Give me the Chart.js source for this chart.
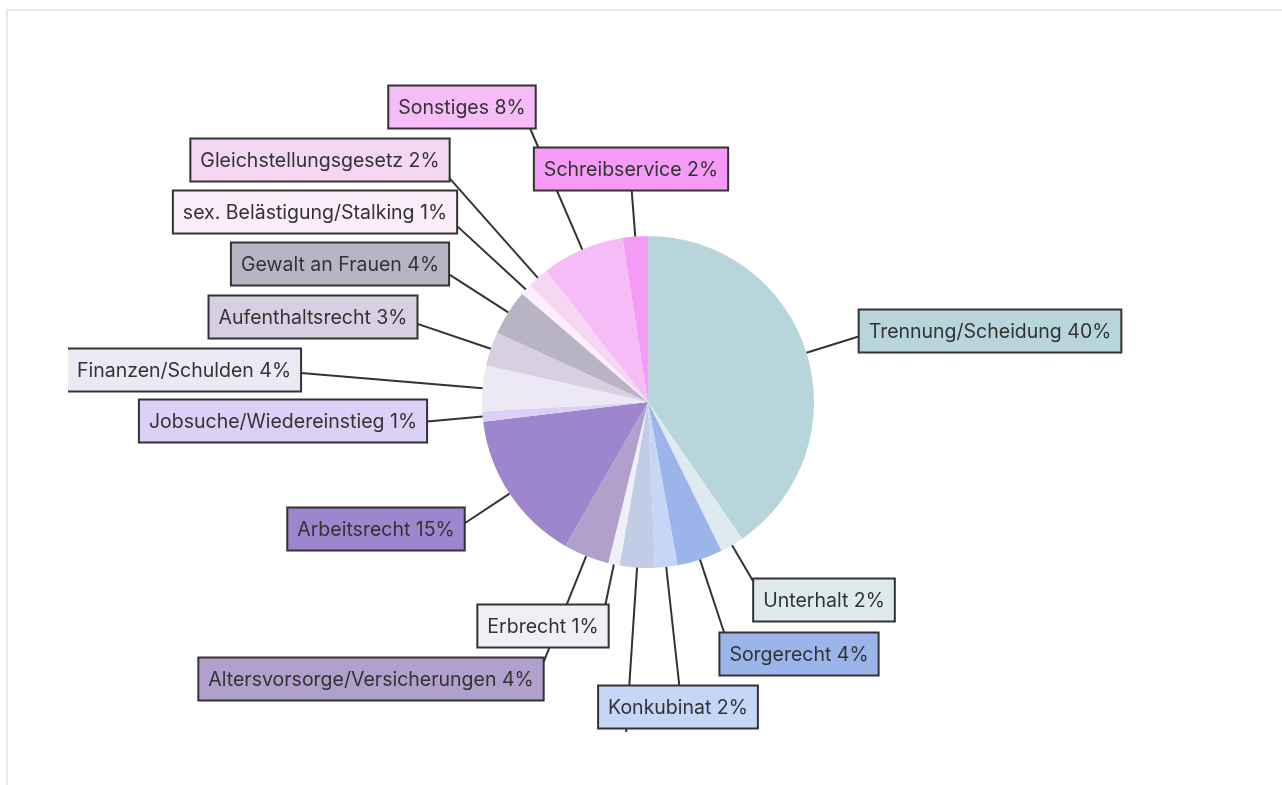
<!DOCTYPE html>
<html>
<head>
<meta charset="utf-8">
<script src="https://cdn.jsdelivr.net/npm/chart.js@4/dist/chart.umd.min.js"></script>
<style>
  html, body { margin: 0; padding: 0; background: #ffffff; overflow: hidden; }
  #frame { position: absolute; left: 6px; top: 9px; width: 1320px; height: 820px;
           border: 2px solid #e8e8e8; box-sizing: border-box; }
  #wrap { position: absolute; left: 68px; top: 72px; width: 1160px; height: 660px; }
</style>
</head>
<body>
<div id="frame"></div>
<div id="wrap"><canvas id="c" width="1160" height="660"></canvas></div>
<script>
// ---- data ----
const categories = [
  'Trennung/Scheidung', 'Unterhalt', 'Sorgerecht', 'Konkubinat', '',
  'Erbrecht', 'Altersvorsorge/Versicherungen', 'Arbeitsrecht',
  'Jobsuche/Wiedereinstieg', 'Finanzen/Schulden', 'Aufenthaltsrecht',
  'Gewalt an Frauen', 'sex. Belästigung/Stalking', 'Gleichstellungsgesetz',
  'Sonstiges', 'Schreibservice'
];
const values = [40.4, 2.3, 4.45, 2.2, 3.4, 1.1, 4.45, 14.8, 1.0, 4.45, 3.3, 4.45, 1.1, 2.1, 8.05, 2.45];
const colors = [
  '#b8d5dc', '#deeaee', '#9bb5ea', '#c6d6f7', '#c1cde6', '#eef0f6', '#b1a0cc', '#9e86cf',
  '#dcd0f6', '#ede9f4', '#d8d0e2', '#b8b4c3', '#fbeefa', '#f5d7f3', '#f6bcf7', '#f59bf6'
];
// label box centre offsets from the pie centre (layout only)
const labelOffsets = [
  [342, -71], [176, 198], [151, 252], [30, 305], [-24, 380],
  [-105, 224], [-277, 277], [-272, 127], [-365, 19], [-464, -32],
  [-335, -85], [-308, -138], [-333, -190], [-328, -242], [-186, -295], [-17, -233]
];

const total = values.reduce((a, b) => a + b, 0);

const boxLabels = {
  id: 'boxLabels',
  afterDatasetsDraw(chart) {
    const ctx = chart.ctx;
    const meta = chart.getDatasetMeta(0);
    ctx.save();
    ctx.font = '19.5px Inter, "Noto Sans", sans-serif';
    const padX = 10, h = 43;
    const boxes = meta.data.map((arc, i) => {
      const p = arc.getProps(['x', 'y', 'startAngle', 'endAngle', 'outerRadius'], true);
      const mid = (p.startAngle + p.endAngle) / 2;
      const dx = Math.cos(mid), dy = Math.sin(mid);
      const ex = p.x + dx * p.outerRadius, ey = p.y + dy * p.outerRadius;
      const text = categories[i] + ' ' + Math.round(values[i] / total * 100) + '%';
      const w = ctx.measureText(text).width + padX * 2;
      const cx = p.x + labelOffsets[i][0], cy = p.y + labelOffsets[i][1];
      const x1 = cx - w / 2, x2 = cx + w / 2, y1 = cy - h / 2, y2 = cy + h / 2;
      // ray / rectangle entry point
      let tmin = 0, tmax = Infinity;
      [[dx, ex, x1, x2], [dy, ey, y1, y2]].forEach(([d, o, lo, hi]) => {
        if (Math.abs(d) < 1e-9) { if (o < lo || o > hi) tmin = Infinity; return; }
        let ta = (lo - o) / d, tb = (hi - o) / d;
        if (ta > tb) [ta, tb] = [tb, ta];
        tmin = Math.max(tmin, ta); tmax = Math.min(tmax, tb);
      });
      const t = (tmin <= tmax && isFinite(tmin)) ? tmin : 0;
      return { i, text, ex, ey, lx: ex + dx * t, ly: ey + dy * t, x1, y1, w, cy };
    });
    ctx.strokeStyle = '#333333';
    ctx.lineWidth = 2;
    boxes.forEach(b => {
      ctx.beginPath(); ctx.moveTo(b.ex, b.ey); ctx.lineTo(b.lx, b.ly); ctx.stroke();
    });
    ctx.textBaseline = 'middle';
    ctx.textAlign = 'left';
    boxes.forEach(b => {
      ctx.fillStyle = colors[b.i];
      ctx.fillRect(b.x1, b.y1, b.w, h);
      ctx.lineWidth = 2;
      ctx.strokeStyle = '#333333';
      ctx.strokeRect(b.x1, b.y1, b.w, h);
      ctx.fillStyle = '#333333';
      ctx.fillText(b.text, b.x1 + padX, b.cy + 1);
    });
    ctx.restore();
  }
};

new Chart(document.getElementById('c'), {
  type: 'pie',
  data: {
    labels: categories,
    datasets: [{ data: values, backgroundColor: colors, borderWidth: 0 }]
  },
  options: {
    responsive: false,
    animation: false,
    radius: 166,
    layout: { padding: 0 },
    plugins: { legend: { display: false }, tooltip: { enabled: false } }
  },
  plugins: [boxLabels]
});
</script>
</body>
</html>
